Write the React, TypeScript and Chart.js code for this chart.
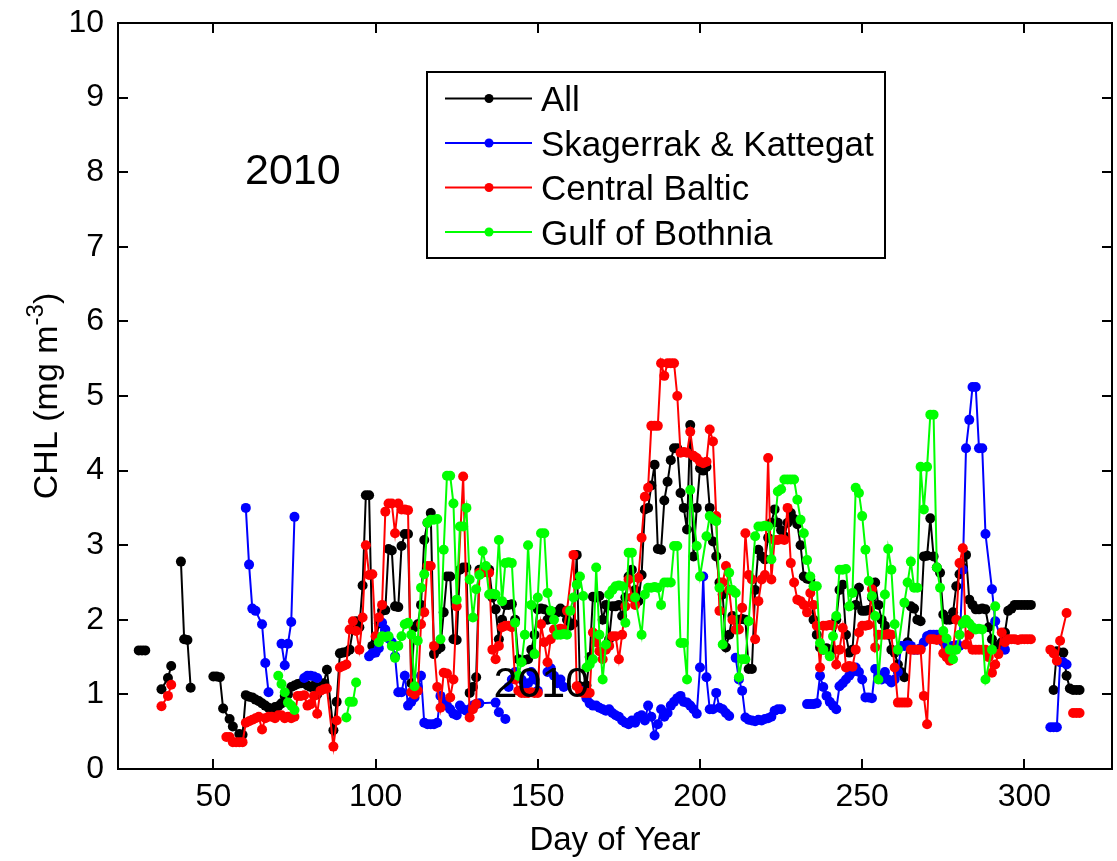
import React, { useEffect, useRef } from "react";
import { Chart, registerables } from "chart.js";

Chart.register(...registerables);

const FONT = '"Liberation Sans", Arial, Helvetica, sans-serif';

const xTicks = [50, 100, 150, 200, 250, 300];
const yTicks = [0, 1, 2, 3, 4, 5, 6, 7, 8, 9, 10];
const xMin = 20.6;
const xMax = 327;
const yMin = 0;
const yMax = 10;
const xTitle = "Day of Year";
const yTitleMain = "CHL (mg m";
const yTitleSup = "-3";
const yTitleEnd = ")";
const yearLabel = "2010";

const seriesNames = ["All", "Skagerrak & Kattegat", "Central Baltic", "Gulf of Bothnia"];
const seriesColors = ["#000000", "#0000ff", "#ff0000", "#00ff00"];

type Obs = [number, number] | null;

const allObs: Obs[] = [
  [27, 1.59], [28, 1.59], [29, 1.59], null,
  [34, 1.07], [36, 1.22], [37, 1.38], null,
  [40, 2.78], [41, 1.74], [42, 1.73], [43, 1.09], null,
  [50, 1.24], [51, 1.24], [52, 1.23], [53, 0.81], [55, 0.67], [56, 0.57], [58, 0.47], [59, 0.46], [60, 0.99],
  [61, 0.97], [62, 0.96], [63, 0.93], [64, 0.91], [65, 0.88], [66, 0.85], [67, 0.82], [68, 0.8], [69, 0.83], [70, 0.84],
  [71, 0.88], [72, 0.98], [73, 1.0], [74, 1.1], [75, 1.12], [76, 1.14], [77, 1.15], [78, 1.15], [79, 1.12], [80, 1.1],
  [81, 1.12], [82, 1.0], [83, 1.1], [84, 1.15], [85, 1.33], [87, 0.52], [88, 0.9], [89, 1.55], [90, 1.56],
  [91, 1.57], [92, 1.6], [93, 1.87], [94, 1.98], [95, 1.9], [96, 2.46], [97, 3.67], [98, 3.67], [99, 1.65], [100, 1.7],
  [101, 1.95], [102, 2.12], [103, 2.13], [104, 2.95], [105, 2.93], [106, 2.18], [107, 2.17], [108, 2.99], [109, 3.15], [110, 3.15],
  [111, 1.15], [112, 1.9], [113, 1.94], [114, 2.2], [115, 3.07], [116, 3.3], [117, 3.43], [118, 1.54], [119, 1.6], [120, 1.63],
  [121, 2.1], [122, 2.58], [123, 2.58], [124, 1.74], [125, 1.73], [126, 2.67], [127, 2.7], [128, 2.7], [129, 1.02], [130, 1.1],
  [131, 1.23], [132, 2.67], [133, 2.67], [134, 2.68], [135, 2.67], [136, 2.3], [137, 2.14], [138, 1.74], [139, 2.0], [140, 2.2],
  [141, 2.2], [142, 2.21], [143, 2.0], [144, 1.47], [145, 1.45], [146, 1.46], [147, 1.47], [148, 1.6], [149, 1.8], [150, 2.14],
  [151, 2.15], [152, 2.14], [153, 2.0], [154, 2.05], [155, 2.1], [156, 2.1], [157, 2.15], [158, 2.1], [159, 2.0], [160, 1.92],
  [161, 1.95], [162, 2.87], [163, 1.11], [164, 1.1], [165, 1.12], [166, 1.5], [167, 2.31], [168, 2.3], [169, 2.32], [170, 2.0],
  [171, 2.2], [172, 1.74], [173, 2.18], [174, 2.18], [175, 2.2], [176, 2.05], [177, 2.3], [178, 2.58], [179, 2.67], [180, 2.4],
  [181, 2.25], [182, 2.6], [183, 3.48], [184, 3.5], [185, 3.8], [186, 4.08], [187, 2.95], [188, 2.94], [189, 3.6], [190, 3.85],
  [191, 4.14], [192, 4.3], [193, 4.3], [194, 3.7], [195, 3.5], [196, 3.21], [197, 4.61], [198, 2.85], [199, 3.5], [200, 4.03],
  [201, 4.0], [202, 4.05], [203, 3.5], [204, 3.05], [205, 2.85], [206, 2.5], [207, 2.34], [208, 1.63], [209, 1.8], [210, 2.05],
  [211, 2.0], [212, 2.0], [213, 2.01], [214, 2.0], [215, 1.34], [216, 1.34], [217, 2.4], [218, 2.94], [219, 2.85], [220, 2.81],
  [221, 3.1], [222, 3.3], [223, 3.48], [224, 3.3], [225, 3.2], [226, 3.12], [227, 3.3], [228, 3.43], [229, 3.35], [230, 3.28],
  [231, 3.0], [232, 2.58], [233, 2.55], [234, 2.54], [235, 2.0], [236, 1.8], [237, 1.63], [238, 1.6], [239, 1.62], [240, 1.6],
  [241, 1.6], [242, 2.0], [243, 2.4], [244, 2.47], [245, 1.8], [246, 1.56], [247, 1.6], [248, 2.2], [249, 2.43], [250, 2.12],
  [251, 2.12], [252, 2.13], [253, 2.3], [254, 2.5], [255, 2.2], [256, 2.0], [257, 1.92], [258, 1.8], [259, 1.6], [260, 1.56],
  [261, 1.4], [262, 1.3], [263, 1.23], [264, 1.7], [265, 2.18], [266, 2.15], [267, 2.0], [268, 1.98], [269, 2.85], [270, 2.86],
  [271, 3.36], [272, 2.85], [273, 2.7], [274, 2.63], [275, 2.07], [276, 2.0], [277, 2.0], [278, 2.1], [279, 2.45], [280, 2.61],
  [281, 2.7], [282, 2.87], [283, 2.27], [284, 2.2], [285, 2.14], [286, 2.14], [287, 2.15], [288, 2.14], [289, 1.9], [290, 1.74],
  [291, 1.65], [292, 1.6], [293, 1.7], [294, 1.83], [295, 2.12], [296, 2.15], [297, 2.2], [298, 2.2], [299, 2.2], [300, 2.2],
  [301, 2.2], [302, 2.2], null,
  [309, 1.06], [310, 1.58], [312, 1.56], [313, 1.25], [314, 1.08], [315, 1.06], [316, 1.06], [317, 1.06],
];

const skagerrakObs: Obs[] = [
  [60, 3.5], [61, 2.74], [62, 2.15], [63, 2.12], [65, 1.94], [66, 1.42], [67, 1.03], null,
  [71, 1.68], [72, 1.39], [73, 1.68], [74, 1.97], [75, 3.38], null,
  [78, 1.22], [79, 1.25], [80, 1.25], [81, 1.24], [82, 1.22], null,
  [98, 1.51], [99, 1.55], [100, 1.56], [101, 1.62], [102, 1.96], [103, 1.87], [104, 1.75], [105, 1.7], [106, 1.51], [107, 1.03],
  [108, 1.03], [109, 1.25], [110, 0.85], [111, 0.9], [112, 0.96], [113, 1.1], [114, 1.25], [115, 0.62], [116, 0.6], [117, 0.6],
  [118, 0.6], [119, 0.62], [120, 0.98], [121, 0.9], [122, 0.85], [123, 0.8], [124, 0.74], [125, 0.72], [126, 0.85], [127, 0.8],
  [128, 0.78], [129, 0.8], [130, 0.85], [131, 0.87], [132, 0.88], [137, 0.89], [138, 0.76], [140, 0.67], null,
  [141, 1.1], [142, 1.2], [143, 1.3], [144, 1.25], [145, 1.2], [146, 1.1], [147, 1.15], [148, 1.3], [149, 1.2], [150, 1.05], null,
  [153, 1.3], [154, 1.35], [155, 1.25], [156, 1.15], [157, 1.2], [158, 1.1], null,
  [164, 1.05], [165, 0.95], [166, 0.88], [167, 0.85], [168, 0.85], [169, 0.82], [170, 0.8], [171, 0.78], [172, 0.8], [173, 0.75],
  [174, 0.72], [175, 0.7], [176, 0.65], [177, 0.62], [178, 0.6], [179, 0.65], [180, 0.62], [181, 0.7], [182, 0.72], [183, 0.65],
  [184, 0.85], [185, 0.7], [186, 0.45], [187, 0.6], [188, 0.8], [189, 0.7], [190, 0.75], [191, 0.85], [192, 0.9], [193, 0.95],
  [194, 0.98], [195, 0.9], [196, 0.89], [197, 0.85], [198, 0.8], [199, 0.74], [200, 1.36], [201, 2.58], [202, 1.23], [203, 0.8],
  [204, 0.8], [205, 1.02], [206, 0.82], [207, 0.8], [208, 0.75], [209, 0.71], null,
  [211, 1.49], [212, 1.2], [213, 1.05], [214, 0.69], [215, 0.66], [216, 0.65], [217, 0.64], [218, 0.66], [219, 0.65], [220, 0.67],
  [221, 0.68], [222, 0.7], [223, 0.78], [224, 0.8], [225, 0.8], null,
  [233, 0.87], [234, 0.87], [235, 0.87], [236, 0.88], [237, 1.25], [238, 1.1], [239, 0.98], [240, 0.9], [241, 0.85], [242, 0.8],
  [243, 1.11], [244, 1.15], [245, 1.2], [246, 1.25], [247, 1.3], [248, 1.36], [249, 1.3], [250, 1.2], [251, 0.96], [252, 0.96],
  [253, 0.95], [254, 1.34], [255, 1.25], [256, 1.2], [257, 1.3], [258, 1.2], [259, 1.16], [260, 1.2], [261, 1.3], [262, 1.65],
  [263, 1.65], [264, 1.66], [265, 1.65], [266, 1.6], [267, 1.6], [268, 1.62], [269, 1.7], [270, 1.78], [271, 1.8], [272, 1.8],
  [273, 1.8], [274, 1.78], [275, 1.7], [276, 1.65], [277, 1.65], [278, 1.65], [279, 1.66], [280, 1.65], [281, 2.67], [282, 4.3],
  [283, 4.68], [284, 5.12], [285, 5.12], [286, 4.3], [287, 4.3], [288, 3.15], [290, 2.41], [291, 1.98], [294, 1.6], null,
  [308, 0.56], [309, 0.56], [310, 0.56], [311, 1.43], [312, 1.43], [313, 1.4],
];

const centralBalticObs: Obs[] = [
  [34, 0.84], [36, 0.98], [37, 1.13], null,
  [54, 0.43], [55, 0.43], [56, 0.36], [57, 0.36], [58, 0.36], [59, 0.36], [60, 0.62], [61, 0.64], [62, 0.66], [63, 0.68],
  [64, 0.7], [65, 0.53], [66, 0.68], [67, 0.7], [68, 0.7], [69, 0.68], [70, 0.72], [71, 0.72], [72, 0.68], [73, 0.7],
  [74, 0.68], [75, 0.7], [76, 0.98], [77, 0.98], [78, 0.99], [79, 0.85], [80, 0.87], [81, 0.98], [82, 0.74], [83, 1.05],
  [84, 1.07], [85, 1.08], [87, 0.3], [88, 0.65], [89, 1.36], [90, 1.38], [91, 1.4], [92, 1.87], [93, 1.98], [94, 1.85],
  [95, 1.6], [96, 2.03], [97, 3.0], [98, 2.6], [99, 2.61], [100, 1.78], [101, 2.03], [102, 2.2], [103, 3.45], [104, 3.56],
  [105, 3.56], [106, 3.16], [107, 3.56], [108, 3.48], [109, 3.48], [110, 3.47], [111, 1.03], [112, 1.0], [113, 1.05], [114, 1.94],
  [115, 2.1], [116, 2.72], [117, 2.72], [118, 1.65], [119, 1.1], [120, 0.82], [121, 1.29], [122, 1.28], [123, 0.96], [124, 1.2],
  [125, 2.18], [127, 3.92], [129, 0.69], [130, 0.8], [131, 0.87], [132, 2.63], [133, 2.63], [134, 2.65], [135, 2.63], [136, 1.6],
  [137, 1.47], [138, 1.65], [139, 1.9], [140, 1.92], [141, 1.92], [142, 1.9], [143, 1.2], [144, 1.05], [145, 1.02], [146, 1.02],
  [147, 1.02], [148, 1.03], [149, 1.02], [150, 1.02], [151, 1.94], [152, 1.7], [153, 1.43], [154, 1.74], [155, 1.87], [156, 1.87],
  [157, 1.88], [158, 1.87], [159, 2.12], [161, 2.87], [162, 1.11], [163, 1.05], [164, 1.02], [165, 1.02], [166, 1.02], [167, 1.83],
  [168, 1.7], [169, 1.58], [170, 1.47], [171, 1.6], [172, 1.65], [173, 1.78], [174, 1.78], [175, 1.47], [176, 1.8], [177, 2.18],
  [178, 2.54], [179, 2.3], [180, 2.2], [181, 2.56], [182, 3.1], [183, 3.65], [184, 3.77], [185, 4.6], [186, 4.6], [187, 4.6],
  [188, 5.44], [189, 5.27], [190, 5.44], [191, 5.44], [192, 5.44], [193, 5.0], [194, 4.24], [195, 4.25], [196, 4.24], [197, 4.52],
  [198, 4.2], [199, 4.17], [200, 4.12], [201, 4.1], [202, 4.12], [203, 4.55], [204, 4.39], [205, 3.39], [206, 2.12], [207, 2.5],
  [208, 2.72], [209, 2.4], [210, 2.0], [211, 1.87], [212, 1.87], [213, 2.16], [214, 3.16], [215, 2.6], [216, 2.54], [217, 1.74],
  [218, 2.25], [219, 2.54], [220, 2.6], [221, 4.17], [222, 2.54], [223, 3.07], [224, 3.07], [225, 3.08], [226, 3.07], [227, 3.5],
  [228, 2.76], [229, 2.5], [230, 2.27], [231, 2.25], [232, 2.2], [233, 2.1], [234, 2.36], [235, 2.2], [236, 1.92], [237, 1.36],
  [238, 1.92], [239, 1.92], [240, 1.93], [241, 1.92], [242, 1.4], [243, 1.6], [244, 1.89], [245, 1.36], [246, 1.38], [247, 1.37],
  [248, 1.6], [249, 1.83], [250, 1.92], [251, 1.92], [252, 1.93], [253, 2.41], [254, 1.63], [255, 1.8], [256, 1.8], [257, 1.8],
  [258, 1.81], [259, 1.8], [260, 1.36], [261, 0.89], [262, 0.89], [263, 0.89], [264, 0.89], [265, 1.6], [266, 1.6], [267, 1.6],
  [268, 1.6], [269, 0.98], [270, 0.6], [271, 1.74], [272, 1.74], [273, 1.73], [274, 1.74], [275, 1.55], [276, 1.5], [277, 1.45],
  [278, 1.6], [279, 2.0], [280, 2.76], [281, 2.96], [282, 1.67], [283, 1.8], [284, 1.6], [285, 1.6], [286, 1.6], [287, 1.6],
  [288, 1.6], [289, 1.5], [290, 1.29], [291, 1.4], [292, 1.54], [293, 1.83], [294, 1.7], [295, 1.74], [296, 1.74], [297, 1.74],
  [298, 1.73], [299, 1.74], [300, 1.74], [301, 1.74], [302, 1.74], null,
  [308, 1.6], [309, 1.55], [310, 1.45], [311, 1.72], [313, 2.09], null,
  [315, 0.75], [316, 0.75], [317, 0.75],
];

const bothniaObs: Obs[] = [
  [70, 1.25], [71, 1.14], [72, 1.03], [73, 0.89], [74, 0.85], [75, 0.79], null,
  [91, 0.69], [92, 0.9], [93, 0.9], [94, 1.16], null,
  [101, 1.7], [102, 1.78], [103, 1.77], [104, 1.78], [105, 1.65], [106, 1.49], [107, 1.65], [108, 1.78], [109, 1.94], [110, 1.96],
  [111, 1.8], [112, 1.11], [113, 1.72], [114, 2.43], [115, 2.61], [116, 3.3], [117, 3.34], [118, 3.34], [119, 3.35], [120, 1.74],
  [121, 2.94], [122, 3.93], [123, 3.93], [124, 3.56], [125, 2.27], [126, 3.25], [127, 3.25], [128, 3.5], [129, 2.54], [130, 2.03],
  [131, 2.41], [132, 2.6], [133, 2.92], [134, 2.72], [135, 2.34], [136, 2.35], [137, 2.34], [138, 3.07], [139, 2.25], [140, 2.76],
  [141, 2.77], [142, 2.76], [143, 1.96], [144, 1.25], [145, 1.43], [146, 1.8], [147, 3.0], [148, 2.2], [149, 1.54], [150, 2.3],
  [151, 3.16], [152, 3.16], [153, 2.36], [154, 2.12], [155, 2.0], [156, 1.8], [157, 1.8], [158, 1.81], [159, 1.8], [160, 2.12],
  [161, 2.3], [162, 2.47], [163, 2.58], [164, 2.32], [165, 1.36], [166, 1.4], [167, 1.47], [168, 2.7], [169, 1.8], [170, 1.2],
  [171, 1.67], [172, 2.34], [173, 2.4], [174, 2.45], [175, 2.46], [176, 2.45], [177, 1.96], [178, 2.9], [179, 2.9], [180, 2.3],
  [182, 1.8], [183, 2.34], [184, 2.43], [185, 2.43], [186, 2.44], [187, 2.43], [188, 2.2], [189, 2.5], [190, 2.5], [191, 2.5],
  [192, 2.99], [193, 2.99], [194, 1.69], [195, 1.69], [196, 1.2], [197, 3.74], [199, 2.99], [200, 2.58], [202, 3.12], [203, 3.39],
  [204, 3.35], [205, 3.32], [206, 2.43], [207, 1.67], [209, 2.63], [210, 2.4], [211, 2.36], [212, 1.23], [213, 1.47], [214, 1.47],
  [215, 1.98], [217, 3.12], [218, 3.25], [219, 3.25], [220, 3.26], [221, 3.25], [222, 2.81], [224, 3.72], [225, 3.75], [226, 3.88],
  [227, 3.88], [228, 3.88], [229, 3.88], [230, 3.61], [231, 3.34], [232, 3.16], [233, 2.8], [234, 2.58], [235, 2.45], [236, 2.45],
  [237, 1.69], [238, 1.6], [240, 1.51], [241, 1.78], [242, 2.05], [243, 2.67], [244, 2.67], [245, 2.68], [246, 2.18], [247, 2.36],
  [248, 3.77], [249, 3.7], [250, 3.39], [251, 2.94], [252, 2.52], [253, 2.32], [254, 2.05], [255, 1.2], [257, 2.34], [258, 2.95],
  [259, 2.67], [260, 1.94], [261, 1.6], [263, 2.23], [264, 2.5], [265, 2.78], [266, 2.43], [267, 2.43], [268, 4.05], [269, 3.48],
  [270, 4.05], [271, 4.75], [272, 4.75], [273, 2.7], [274, 2.43], [275, 1.85], [276, 1.75], [277, 1.6], [278, 1.47], [279, 1.6],
  [280, 1.8], [281, 1.95], [282, 2.0], [283, 1.95], [284, 1.9], [285, 1.87], [286, 1.88], [287, 1.87], [288, 1.2], [290, 1.6],
  [291, 2.18],
];

const seriesObs = [allObs, skagerrakObs, centralBalticObs, bothniaObs];
// lower "order" is painted on top; Gulf of Bothnia was plotted last
const seriesOrder = [4, 3, 2, 1];

function toPoints(obs: Obs[]) {
  const pts: { x: number; y: number | null }[] = [];
  let lastX = obs.length && obs[0] ? (obs[0] as [number, number])[0] : 0;
  for (const o of obs) {
    if (o === null) {
      pts.push({ x: lastX, y: null });
    } else {
      pts.push({ x: o[0], y: o[1] });
      lastX = o[0];
    }
  }
  return pts;
}

const decorPlugin = {
  id: "matlabDecor",
  afterDatasetsDraw(chart: any) {
    const { ctx, chartArea, scales } = chart;
    const { left, right, top, bottom } = chartArea;
    const xs = scales.x;
    const ys = scales.y;
    ctx.save();

    // year labels (the second one sits over the data)
    ctx.fillStyle = "#000";
    ctx.font = `43px ${FONT}`;
    ctx.textAlign = "left";
    ctx.textBaseline = "alphabetic";
    ctx.fillText(yearLabel, 245, 184);
    ctx.fillText(yearLabel, 493.5, 697);

    // axes box with inward ticks on all four sides
    ctx.strokeStyle = "#000";
    ctx.lineWidth = 2;
    ctx.strokeRect(left, top, right - left, bottom - top);
    const tl = 10;
    ctx.beginPath();
    for (const v of xTicks) {
      const px = Math.round(xs.getPixelForValue(v));
      ctx.moveTo(px, bottom);
      ctx.lineTo(px, bottom - tl);
      ctx.moveTo(px, top);
      ctx.lineTo(px, top + tl);
    }
    for (const v of yTicks) {
      const py = Math.round(ys.getPixelForValue(v));
      ctx.moveTo(left, py);
      ctx.lineTo(left + tl, py);
      ctx.moveTo(right, py);
      ctx.lineTo(right - tl, py);
    }
    ctx.stroke();

    // legend
    const bx = 427, by = 72, bw = 458, bh = 186;
    ctx.fillStyle = "#fff";
    ctx.fillRect(bx, by, bw, bh);
    ctx.strokeStyle = "#000";
    ctx.lineWidth = 2;
    ctx.strokeRect(bx, by, bw, bh);
    ctx.font = `35px ${FONT}`;
    seriesNames.forEach((name, i) => {
      const ry = 98.5 + i * 44.5;
      ctx.strokeStyle = seriesColors[i];
      ctx.lineWidth = 2;
      ctx.beginPath();
      ctx.moveTo(445, ry);
      ctx.lineTo(532, ry);
      ctx.stroke();
      ctx.fillStyle = seriesColors[i];
      ctx.beginPath();
      ctx.arc(489, ry, 4.5, 0, Math.PI * 2);
      ctx.fill();
      ctx.fillStyle = "#000";
      ctx.textBaseline = "alphabetic";
      ctx.fillText(name, 541, ry + 12.5);
    });

    // x axis title
    ctx.fillStyle = "#000";
    ctx.font = `33px ${FONT}`;
    ctx.textAlign = "center";
    ctx.fillText(xTitle, (left + right) / 2, 850);

    // y axis title with superscript
    ctx.save();
    ctx.translate(57, 396);
    ctx.rotate(-Math.PI / 2);
    ctx.textAlign = "left";
    ctx.font = `34px ${FONT}`;
    const w1 = ctx.measureText(yTitleMain).width;
    const w3 = ctx.measureText(yTitleEnd).width;
    ctx.font = `24px ${FONT}`;
    const w2 = ctx.measureText(yTitleSup).width;
    const x0 = -(w1 + w2 + w3) / 2;
    ctx.font = `34px ${FONT}`;
    ctx.fillText(yTitleMain, x0, 0);
    ctx.font = `24px ${FONT}`;
    ctx.fillText(yTitleSup, x0 + w1, -14);
    ctx.font = `34px ${FONT}`;
    ctx.fillText(yTitleEnd, x0 + w1 + w2, 0);
    ctx.restore();

    ctx.restore();
  },
};

export default function App() {
  const canvasRef = useRef<HTMLCanvasElement | null>(null);

  useEffect(() => {
    const canvas = canvasRef.current;
    if (!canvas) return;
    const datasets = seriesNames.map((name, i) => ({
      label: name,
      data: toPoints(seriesObs[i]),
      borderColor: seriesColors[i],
      backgroundColor: seriesColors[i],
      pointBackgroundColor: seriesColors[i],
      pointBorderColor: seriesColors[i],
      pointBorderWidth: 0,
      pointRadius: 5,
      pointHoverRadius: 5,
      borderWidth: 2,
      tension: 0,
      spanGaps: false,
      fill: false,
      order: seriesOrder[i],
    }));

    const tickFont = { family: FONT, size: 32 };

    const chart = new Chart(canvas, {
      type: "line",
      data: { datasets },
      options: {
        animation: false,
        responsive: false,
        devicePixelRatio: 1,
        events: [],
        layout: { padding: { top: 23, right: 5, left: 0, bottom: 0 } },
        plugins: {
          legend: { display: false },
          tooltip: { enabled: false },
          title: { display: false },
        },
        scales: {
          x: {
            type: "linear",
            min: xMin,
            max: xMax,
            afterBuildTicks: (s: any) => {
              s.ticks = xTicks.map((v) => ({ value: v }));
            },
            afterFit: (s: any) => {
              s.height = 92;
              s.paddingLeft = 0;
              s.paddingRight = 0;
            },
            grid: { display: false, drawTicks: false },
            border: { display: false },
            ticks: { font: tickFont, color: "#000", padding: 9, maxRotation: 0, autoSkip: false },
          },
          y: {
            type: "linear",
            min: yMin,
            max: yMax,
            afterBuildTicks: (s: any) => {
              s.ticks = yTicks.map((v) => ({ value: v }));
            },
            afterFit: (s: any) => {
              s.width = 118;
              s.paddingTop = 0;
              s.paddingBottom = 0;
            },
            grid: { display: false, drawTicks: false },
            border: { display: false },
            ticks: { font: tickFont, color: "#000", padding: 14, autoSkip: false },
          },
        },
      } as any,
      plugins: [decorPlugin],
    });

    return () => {
      chart.destroy();
    };
  }, []);

  return (
    <div style={{ position: "absolute", left: 0, top: 0, width: 1117, height: 861, background: "#fff" }}>
      <canvas ref={canvasRef} width={1117} height={861} style={{ display: "block" }} />
    </div>
  );
}
